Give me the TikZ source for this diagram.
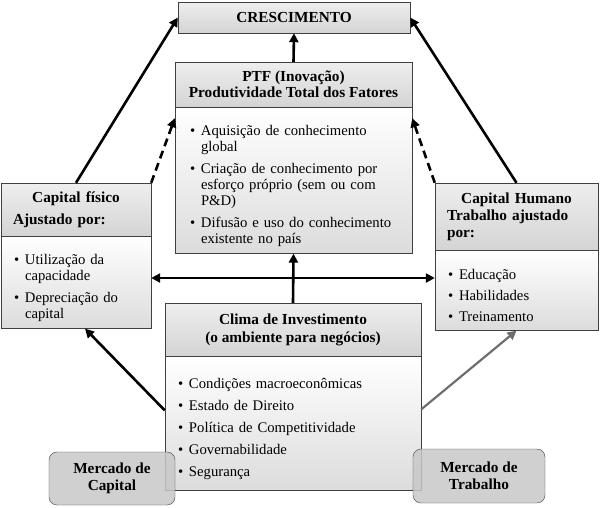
\documentclass[tikz,border=0pt]{standalone}
\usepackage{fontspec}
\setmainfont{Liberation Serif}
\usetikzlibrary{arrows.meta, positioning, calc}
\definecolor{BoxLine}{HTML}{404040}
\definecolor{HeadTop}{HTML}{EEEEEE}
\definecolor{HeadBottom}{HTML}{D4D4D4}
\definecolor{BodyBottom}{HTML}{DCDCDC}
\definecolor{MarketFill}{HTML}{C8C8C8}
\definecolor{ArrowGray}{HTML}{6E6E6E}
\newcommand{\bul}[1]{\par\hangindent=11pt\hangafter=1\noindent\makebox[11pt][l]{\textbullet}#1\par}
\tikzset{
    headbox/.style={
        draw=BoxLine,
        top color=HeadTop,
        bottom color=HeadBottom,
        font=\fontsize{15.3}{16.5}\selectfont\bfseries,
        align=center,
        inner sep=3pt
    },
    bodybox/.style={
        draw=BoxLine,
        top color=white,
        bottom color=BodyBottom,
        font=\fontsize{14.7}{16}\selectfont,
        align=left,
        inner xsep=15pt,
        inner ysep=3pt,
        execute at begin node={\setlength{\parskip}{6pt}\hyphenpenalty=10000 \exhyphenpenalty=10000 }
    },
    marketbox/.style={
        draw=BoxLine,
        fill=MarketFill,
        fill opacity=0.85,
        text opacity=1,
        rounded corners=8pt,
        font=\fontsize{15.3}{17}\selectfont\bfseries,
        align=center
    },
    arrow/.style={
        -{Triangle[length=9pt,width=9pt]},
        line width=2.6pt,
        black
    },
    dasharrow/.style={
        arrow,
        dash pattern=on 8pt off 5pt
    }
}
\begin{document}
\begin{tikzpicture}[x=1pt, y=-1pt]
    \useasboundingbox (0,0) rectangle (600,507);

    % Crescimento
    \node[headbox, minimum width=232pt, minimum height=31pt] (cresc) at (294,17.5) {CRESCIMENTO};

    % PTF
    \node[headbox, minimum width=237pt, minimum height=45pt] (ptfh) at (293.5,84.5) {PTF (Inovação)\\Produtividade Total dos Fatores};
    \node[bodybox, text width=207pt, minimum height=146pt, below=0pt of ptfh] (ptfb) {
        \bul{Aquisição de conhecimento global}
        \bul{Criação de conhecimento por esforço próprio (sem ou com P\&D)}
        \bul{Difusão e uso do conhecimento existente no país}
    };

    % Capital fisico
    \node[headbox, align=left, text width=126pt, inner xsep=12pt, minimum height=53pt] (cfh) at (76,209.5) {
        \centerline{Capital físico}\par\vspace{6pt}Ajustado por:
    };
    \node[bodybox, text width=124pt, inner xsep=13pt, minimum height=92pt, below=0pt of cfh] (cfb) {
        \bul{Utilização da capacidade}
        \bul{Depreciação do capital}
    };

    % Capital humano
    \node[headbox, align=left, text width=139pt, inner xsep=12pt, minimum height=67pt] (chh) at (516.5,216.5) {
        \centerline{Capital Humano}\par\vspace{1pt}Trabalho ajustado\\por:
    };
    \node[bodybox, text width=137pt, inner xsep=13pt, minimum height=80pt, below=0pt of chh, execute at begin node={\setlength{\parskip}{5pt}}] (chb) {
        \bul{Educação}
        \bul{Habilidades}
        \bul{Treinamento}
    };

    % Clima de investimento
    \node[headbox, minimum width=256pt, minimum height=53pt, font=\fontsize{15.3}{18}\selectfont\bfseries] (climah) at (293,329.5) {Clima de Investimento\\(o ambiente para negócios)};
    \node[bodybox, text width=230pt, inner xsep=13pt, minimum height=134pt, below=0pt of climah] (climab) {
        \bul{Condições macroeconômicas}
        \bul{Estado de Direito}
        \bul{Política de Competitividade}
        \bul{Governabilidade}
        \bul{Segurança}
    };

    % Setas
    \coordinate (mid) at (293,278);
    \draw[arrow] (cfh.north) -- (cresc.west);
    \draw[arrow] (chh.north) -- (cresc.east);
    \draw[arrow] (ptfh.north) -- (cresc.south);
    \draw[arrow] (climah.north) -- (ptfb.south);
    \draw[dasharrow] (cfh.north east) -- ([yshift=-11pt]ptfb.north west);
    \draw[dasharrow] (chh.north west) -- ([yshift=-11pt]ptfb.north east);
    \draw[arrow, {Triangle[length=9pt,width=9pt]}-{Triangle[length=9pt,width=9pt]}] (cfb.east |- mid) -- (chb.west |- mid);
    \draw[arrow] ([yshift=13pt]climab.west) -- ([xshift=9pt]cfb.south);
    \draw[arrow, ArrowGray, line width=2.2pt] ([yshift=14pt]climab.east) -- (chb.south);

    % Mercados
    \node[marketbox, minimum width=126pt, minimum height=53pt] (mcap) at (112,478.5) {Mercado de\\Capital};
    \node[marketbox, minimum width=132pt, minimum height=54pt] (mtrab) at (479,476) {Mercado de\\Trabalho};
\end{tikzpicture}
\end{document}
